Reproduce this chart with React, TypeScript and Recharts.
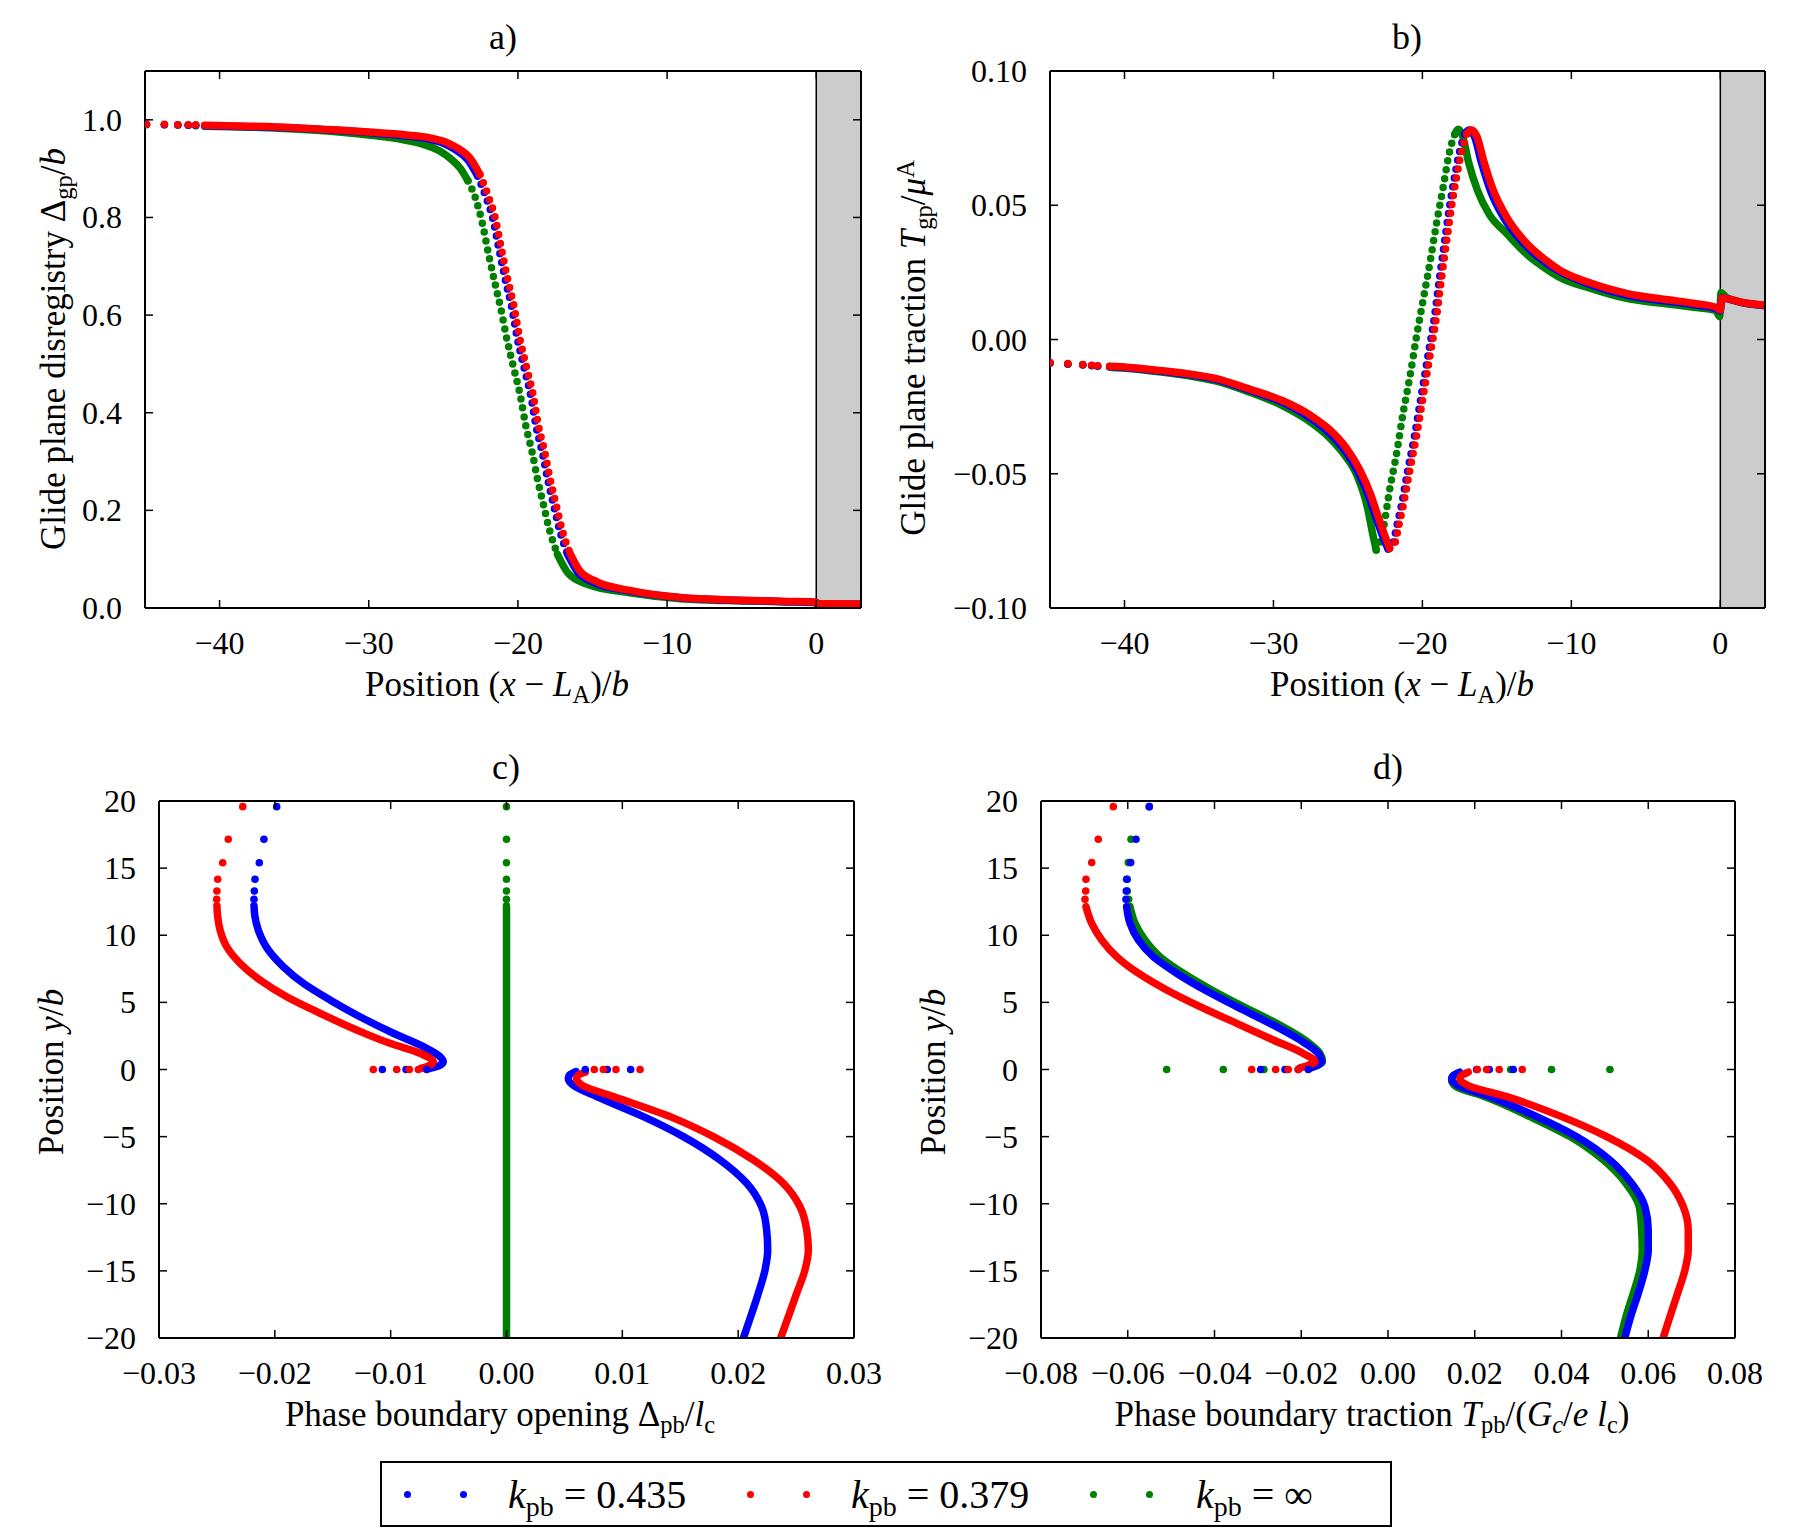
import React from "react";
import {
  ComposedChart,
  Line,
  ReferenceArea,
  ReferenceLine,
  Scatter,
  XAxis,
  YAxis,
} from "recharts";

type P = [number, number];
type Pt = { x: number; y: number };
type Kind = "dot" | "solid" | "dotted";

// a) glide plane disregistry vs position
const aBlue: P[] = [
  [-44.9, 0.991], [-43.7, 0.99], [-42.8, 0.99], [-42.1, 0.989], [-41.6, 0.989],
  [-41.0, 0.988], [-38.0, 0.986], [-35.0, 0.983], [-32.0, 0.978], [-30.0, 0.974],
  [-27.5, 0.967], [-25.9, 0.96], [-25.0, 0.952], [-24.25, 0.94], [-23.35, 0.918],
  [-22.7, 0.885], [-22.15, 0.842], [-21.69, 0.798], [-21.25, 0.732], [-20.8, 0.666],
  [-20.46, 0.622], [-20.02, 0.549], [-19.57, 0.49], [-19.12, 0.432], [-18.79, 0.373],
  [-18.34, 0.315], [-18.01, 0.264], [-17.56, 0.205], [-17.22, 0.161], [-16.67, 0.11],
  [-16.0, 0.074], [-14.9, 0.052], [-12.6, 0.035], [-9.1, 0.021], [-5.0, 0.0155],
  [-2.0, 0.013], [0.0, 0.0115], [0.05, 0.0085], [3.0, 0.0078],
];
const aRed: P[] = [
  [-44.9, 0.991], [-43.7, 0.991], [-42.8, 0.99], [-42.1, 0.99], [-41.6, 0.99],
  [-41.0, 0.989], [-38.0, 0.987], [-35.0, 0.984], [-32.0, 0.979], [-30.0, 0.975],
  [-27.5, 0.969], [-25.9, 0.963], [-24.9, 0.955], [-24.1, 0.943], [-23.2, 0.921],
  [-22.55, 0.888], [-22.0, 0.845], [-21.54, 0.801], [-21.1, 0.735], [-20.65, 0.669],
  [-20.31, 0.625], [-19.87, 0.552], [-19.42, 0.493], [-18.97, 0.435], [-18.64, 0.376],
  [-18.19, 0.318], [-17.86, 0.267], [-17.41, 0.208], [-17.07, 0.164], [-16.52, 0.113],
  [-15.85, 0.076], [-14.73, 0.054], [-12.5, 0.036], [-9.1, 0.0215], [-5.0, 0.016],
  [-2.0, 0.0135], [0.0, 0.012], [0.05, 0.009], [1.5, 0.0085], [3.0, 0.008],
];
const aGreen: P[] = [
  [-44.9, 0.99], [-43.7, 0.99], [-42.8, 0.989], [-42.1, 0.989], [-41.6, 0.988],
  [-41.0, 0.987], [-38.0, 0.985], [-35.0, 0.981], [-32.0, 0.975], [-30.0, 0.969],
  [-28.0, 0.961], [-26.5, 0.951], [-25.3, 0.937], [-24.5, 0.92], [-23.85, 0.9],
  [-23.35, 0.875], [-22.85, 0.84], [-22.4, 0.79], [-21.95, 0.722], [-21.5, 0.66],
  [-21.16, 0.615], [-20.72, 0.548], [-20.27, 0.49], [-19.82, 0.432], [-19.49, 0.376],
  [-19.04, 0.318], [-18.71, 0.267], [-18.26, 0.208], [-17.92, 0.164], [-17.35, 0.11],
  [-16.6, 0.07], [-15.3, 0.048], [-12.5, 0.031], [-9.1, 0.019], [-5.0, 0.0145],
  [-2.0, 0.0125], [0.0, 0.0105], [0.05, 0.008], [3.0, 0.0075],
];

// b) glide plane traction vs position
const bBlue: P[] = [
  [-45.0, -0.0087], [-43.8, -0.0091], [-42.8, -0.0094], [-42.2, -0.0097], [-41.8, -0.0099],
  [-41.0, -0.0101], [-39.7, -0.0106], [-37.7, -0.0117], [-35.8, -0.013], [-33.9, -0.0148],
  [-31.6, -0.0189], [-29.3, -0.0236], [-27.6, -0.029], [-26.3, -0.0346], [-25.2, -0.0415],
  [-24.3, -0.0496], [-23.6, -0.0585], [-23.07, -0.067], [-22.6, -0.0742], [-22.3, -0.078],
  [-21.97, -0.0758], [-21.73, -0.0697], [-21.43, -0.0623], [-20.98, -0.0486], [-20.54, -0.0362],
  [-20.09, -0.0213], [-19.64, -0.0064], [-19.19, 0.0085], [-18.84, 0.0234], [-18.5, 0.037],
  [-18.18, 0.0495], [-17.84, 0.0606], [-17.48, 0.0706], [-17.14, 0.0768], [-16.85, 0.078],
  [-16.48, 0.0752], [-16.05, 0.0662], [-15.4, 0.055], [-14.5, 0.045], [-13.1, 0.0352],
  [-11.5, 0.0278], [-10.8, 0.0254], [-8.8, 0.0206], [-6.3, 0.0165], [-3.5, 0.0142],
  [-1.8, 0.013], [-0.3, 0.0115], [0.0, 0.0106], [0.1, 0.0155], [1.5, 0.0137], [3.0, 0.0127],
];
const bRed: P[] = [
  [-45.0, -0.0086], [-43.8, -0.009], [-42.8, -0.0093], [-42.2, -0.0096], [-41.8, -0.0098],
  [-41.0, -0.01], [-39.7, -0.0104], [-37.7, -0.0115], [-35.8, -0.0127], [-33.9, -0.0145],
  [-31.6, -0.0185], [-29.3, -0.023], [-27.55, -0.0281], [-26.2, -0.0337], [-25.1, -0.0405],
  [-24.2, -0.0486], [-23.5, -0.0573], [-22.97, -0.066], [-22.5, -0.0734], [-22.2, -0.0778],
  [-21.85, -0.0759], [-21.6, -0.0697], [-21.3, -0.0623], [-20.84, -0.0486], [-20.4, -0.0362],
  [-19.95, -0.0213], [-19.5, -0.0064], [-19.05, 0.0085], [-18.7, 0.0234], [-18.36, 0.037],
  [-18.04, 0.0495], [-17.7, 0.0606], [-17.34, 0.0706], [-17.0, 0.0768], [-16.7, 0.078],
  [-16.33, 0.0755], [-15.9, 0.0668], [-15.25, 0.0557], [-14.35, 0.0457], [-13.0, 0.0358],
  [-11.44, 0.0284], [-10.8, 0.0259], [-8.8, 0.0212], [-6.3, 0.0172], [-3.5, 0.0148],
  [-1.8, 0.0135], [-0.3, 0.012], [0.0, 0.011], [0.1, 0.0155], [1.5, 0.0138], [3.0, 0.0128],
];
const bGreen: P[] = [
  [-45.0, -0.0088], [-43.8, -0.0092], [-42.8, -0.0095], [-42.2, -0.0098], [-41.8, -0.01],
  [-41.0, -0.0103], [-39.7, -0.0108], [-37.7, -0.012], [-35.8, -0.0134], [-33.9, -0.0154],
  [-31.6, -0.0196], [-29.3, -0.0249], [-27.8, -0.0297], [-26.2, -0.0368], [-25.3, -0.0425],
  [-24.4, -0.0505], [-23.7, -0.0623], [-23.3, -0.0734], [-23.1, -0.0784], [-22.85, -0.0755],
  [-22.6, -0.0697], [-22.2, -0.056], [-21.73, -0.0424], [-21.3, -0.0275], [-20.84, -0.0139],
  [-20.4, 0.001], [-19.95, 0.0147], [-19.5, 0.0284], [-19.05, 0.0433], [-18.6, 0.0569],
  [-18.15, 0.0706], [-17.8, 0.0768], [-17.6, 0.0783], [-17.3, 0.0757], [-16.9, 0.066],
  [-16.3, 0.0555], [-15.5, 0.0465], [-14.35, 0.0395], [-13.0, 0.0318], [-11.44, 0.0254],
  [-10.8, 0.0232], [-8.8, 0.0192], [-6.3, 0.0153], [-3.5, 0.0132], [-1.8, 0.012],
  [-0.3, 0.0108], [-0.05, 0.0085], [0.05, 0.0174], [0.4, 0.0157], [1.5, 0.0137], [3.0, 0.0126],
];

// c) phase boundary opening vs y
const cBlue: P[] = [
  [-0.01984, 19.58], [-0.02094, 17.15], [-0.02134, 15.4], [-0.02171, 14.17], [-0.02177, 13.3], [-0.0218, 12.68],
  [-0.0218, 12.2], [-0.02172, 11.4], [-0.02143, 10.39], [-0.02056, 8.9], [-0.01927, 7.66], [-0.01754, 6.42],
  [-0.01524, 5.18], [-0.01265, 3.93], [-0.00977, 2.7], [-0.00718, 1.7], [-0.0058, 1.0], [-0.00546, 0.58],
  [-0.0059, 0.25], [-0.0066, 0.08],
  [-0.00689, 0], [-0.00867, 0], [-0.01072, 0],
  [0.01072, 0], [0.0087, 0], [0.0068, 0],
  [0.006, -0.15], [0.0054, -0.45], [0.00534, -0.73], [0.0058, -1.2], [0.00779, -2.02], [0.01182, -3.51],
  [0.01527, -5.0], [0.01844, -6.74], [0.02074, -8.48], [0.02203, -10.22], [0.02246, -11.96], [0.02255, -13.45],
  [0.02232, -14.93], [0.02174, -16.67], [0.02108, -18.41], [0.02045, -20.0],
];
const cRed: P[] = [
  [-0.02277, 19.58], [-0.02402, 17.15], [-0.0245, 15.4], [-0.02493, 14.17], [-0.025, 13.3], [-0.02502, 12.68],
  [-0.025, 12.2], [-0.02495, 11.5], [-0.02473, 10.39], [-0.02416, 9.15], [-0.023, 7.91], [-0.02128, 6.67],
  [-0.01898, 5.42], [-0.0161, 4.19], [-0.01293, 2.94], [-0.01006, 1.95], [-0.00747, 1.21], [-0.00632, 0.58],
  [-0.0068, 0.25], [-0.0074, 0.08],
  [-0.00761, 0], [-0.00839, 0], [-0.00948, 0], [-0.0115, 0],
  [0.01153, 0], [0.00945, 0], [0.00836, 0], [0.00758, 0],
  [0.0068, -0.2], [0.0061, -0.5], [0.00606, -0.73], [0.0066, -1.2], [0.00923, -2.02], [0.01412, -3.51],
  [0.01786, -5.0], [0.02131, -6.74], [0.0239, -8.48], [0.02534, -10.22], [0.02592, -11.96], [0.02606, -13.45],
  [0.02577, -14.93], [0.02505, -16.67], [0.02433, -18.41], [0.02367, -20.0],
];
const cGreen: P[] = [
  [0, 19.58], [0, 17.15], [0, 15.4], [0, 14.17], [0, 13.3], [0, 12.68],
  [0, 12.2], [0, 6.0], [0, -6.0], [0, -20.0],
];

// d) phase boundary traction vs y
const dBlue: P[] = [
  [-0.05504, 19.58], [-0.0581, 17.15], [-0.05932, 15.41], [-0.06025, 14.17], [-0.06034, 13.3], [-0.06041, 12.68],
  [-0.06025, 12.13], [-0.05948, 10.89], [-0.05757, 9.65], [-0.05411, 8.4], [-0.04872, 7.17], [-0.0422, 5.92],
  [-0.03489, 4.68], [-0.02721, 3.44], [-0.0203, 2.2], [-0.01608, 1.2], [-0.0153, 0.58], [-0.0165, 0.3], [-0.018, 0.12],
  [-0.01838, 0], [-0.02069, 0], [-0.02375, 0], [-0.02935, 0],
  [0.02888, 0], [0.02334, 0], [0.02043, 0],
  [0.0165, -0.2], [0.0149, -0.5], [0.01467, -0.73], [0.0162, -1.2], [0.0235, -2.02], [0.03427, -3.51],
  [0.04349, -5.0], [0.05117, -6.74], [0.05617, -8.48], [0.05924, -10.22], [0.06, -11.96], [0.06, -13.45],
  [0.05924, -14.93], [0.0577, -16.67], [0.05594, -18.41], [0.0546, -20.0],
];
const dRed: P[] = [
  [-0.06333, 19.58], [-0.06679, 17.15], [-0.06831, 15.41], [-0.06963, 14.17], [-0.0697, 13.3], [-0.06986, 12.68],
  [-0.06963, 12.13], [-0.06831, 10.89], [-0.066, 9.65], [-0.06255, 8.4], [-0.05757, 7.17], [-0.05103, 5.92],
  [-0.04335, 4.68], [-0.03489, 3.44], [-0.02645, 2.2], [-0.01954, 1.2], [-0.01684, 0.58], [-0.0185, 0.3], [-0.0203, 0.12],
  [-0.02069, 0], [-0.023, 0], [-0.0259, 0], [-0.03143, 0],
  [0.03095, 0], [0.02564, 0], [0.02274, 0], [0.02058, 0],
  [0.0185, -0.2], [0.0168, -0.5], [0.01659, -0.73], [0.0185, -1.2], [0.02736, -2.02], [0.04003, -3.51],
  [0.0504, -5.0], [0.05962, -6.74], [0.065, -8.48], [0.06807, -10.22], [0.06922, -11.96], [0.06922, -13.45],
  [0.06846, -14.93], [0.06677, -16.67], [0.065, -18.41], [0.06343, -20.0],
];
const dGreen: P[] = [
  [-0.05504, 19.58], [-0.05925, 17.15], [-0.05987, 15.41], [-0.0601, 14.17], [-0.0601, 13.3], [-0.0598, 12.68],
  [-0.05948, 12.13], [-0.05833, 10.89], [-0.05603, 9.65], [-0.05257, 8.4], [-0.0472, 7.17], [-0.04065, 5.92],
  [-0.03336, 4.68], [-0.02567, 3.44], [-0.01914, 2.2], [-0.01568, 1.2], [-0.0151, 0.58], [-0.0163, 0.3], [-0.0178, 0.12],
  [-0.02336, 0], [-0.0286, 0], [-0.03797, 0], [-0.05103, 0],
  [0.05117, 0], [0.0377, 0], [0.02828, 0], [0.02312, 0],
  [0.0165, -0.25], [0.0148, -0.55], [0.01467, -0.8], [0.0158, -1.3], [0.02235, -2.02], [0.03272, -3.51],
  [0.04195, -5.0], [0.04963, -6.74], [0.05486, -8.48], [0.05793, -10.22], [0.05847, -11.96], [0.05862, -13.45],
  [0.05808, -14.93], [0.05655, -16.67], [0.05486, -18.41], [0.0536, -20.0],
];

const posTicks = [-40, -30, -20, -10, 0];
const aYTicks = [0, 0.2, 0.4, 0.6, 0.8, 1.0];
const bYTicks = [-0.1, -0.05, 0, 0.05, 0.1];
const cXTicks = [-0.03, -0.02, -0.01, 0, 0.01, 0.02, 0.03];
const dXTicks = [-0.08, -0.06, -0.04, -0.02, 0, 0.02, 0.04, 0.06, 0.08];
const yTicks = [-20, -15, -10, -5, 0, 5, 10, 15, 20];

const BLUE = "#0000ff";
const RED = "#ff0000";
const GREEN = "#008000";
const FONT = '"Liberation Serif", "DejaVu Serif", serif';

const fmt = (digits: number) => (v: number) =>
  (digits < 0 ? String(v) : v.toFixed(digits)).replace("-", "\u2212");

// split a series into isolated dots, dense (solid) runs and sparse (dotted) runs
function segments(data: P[], kindOf: (p: Pt, i: number, pts: Pt[]) => Kind) {
  const pts = data.map(([x, y]) => ({ x, y }));
  const segs: { kind: Kind; pts: Pt[] }[] = [];
  pts.forEach((p, i) => {
    const k = kindOf(p, i, pts);
    const last = segs[segs.length - 1];
    if (last && last.kind === k) {
      last.pts.push(p);
      return;
    }
    const seg = { kind: k, pts: [p] };
    if (last && k !== "dot" && last.kind !== "dot") seg.pts.unshift(last.pts[last.pts.length - 1]);
    segs.push(seg);
  });
  return segs;
}

const kindA = (p: Pt): Kind => (p.x < -41.3 ? "dot" : p.y > 0.1 && p.y < 0.87 ? "dotted" : "solid");
const kindB = (p: Pt, i: number, pts: Pt[]): Kind => {
  if (p.x < -41.3) return "dot";
  let lo = 0;
  let hi = 0;
  pts.forEach((q, j) => {
    if (q.y < pts[lo].y) lo = j;
    if (q.y > pts[hi].y) hi = j;
  });
  return i > lo && i < hi ? "dotted" : "solid";
};
const kindPB = (p: Pt): Kind => (p.y === 0 || p.y > 12.5 ? "dot" : "solid");

interface PanelProps {
  left: number;
  top: number;
  right: number;
  yWidth: number;
  xDomain: [number, number];
  yDomain: [number, number];
  xTicks: number[];
  yTicks: number[];
  xFmt: (v: number) => string;
  yFmt: (v: number) => string;
  series: { color: string; data: P[] }[];
  kindOf: (p: Pt, i: number, pts: Pt[]) => Kind;
  curve: "monotone" | "monotoneY";
  shaded?: boolean;
}

const W = 900;
const H = 720;
const TOP = 71;
const XH = 112;
const TICK = 8;
const axisStyle = { stroke: "#000", strokeWidth: 2 };
const tickText = { fill: "#000", fontSize: 32, fontFamily: FONT };

function Panel(props: PanelProps) {
  const { left, top, right, yWidth, xDomain, yDomain, xTicks, yTicks, xFmt, yFmt, series, kindOf, curve, shaded } = props;
  const pl = yWidth;
  const pr = W - right;
  const pt = TOP;
  const pb = H - XH;

  // matplotlib-style ticks: pointing inward on all four sides
  const xTick = (p: any) => (
    <g>
      <line x1={p.x} x2={p.x} y1={pb} y2={pb - TICK} stroke="#000" strokeWidth={1.5} />
      <line x1={p.x} x2={p.x} y1={pt} y2={pt + TICK} stroke="#000" strokeWidth={1.5} />
      <text x={p.x} y={pb + 46} textAnchor="middle" {...tickText}>{xFmt(p.payload.value)}</text>
    </g>
  );
  const yTick = (p: any) => (
    <g>
      <line x1={pl} x2={pl + TICK} y1={p.y} y2={p.y} stroke="#000" strokeWidth={1.5} />
      <line x1={pr} x2={pr - TICK} y1={p.y} y2={p.y} stroke="#000" strokeWidth={1.5} />
      <text x={pl - 23} y={p.y + 11} textAnchor="end" {...tickText}>{yFmt(p.payload.value)}</text>
    </g>
  );

  return (
    <div style={{ position: "absolute", left, top }}>
      <ComposedChart width={W} height={H} margin={{ top: TOP, right, bottom: 0, left: 0 }}>
        <XAxis xAxisId="b" type="number" dataKey="x" domain={xDomain} ticks={xTicks} allowDataOverflow
          orientation="bottom" height={XH} interval={0} tick={xTick} tickLine={false} axisLine={axisStyle} />
        <YAxis yAxisId="l" type="number" dataKey="y" domain={yDomain} ticks={yTicks} allowDataOverflow
          orientation="left" width={yWidth} interval={0} tick={yTick} tickLine={false} axisLine={axisStyle} />
        {shaded && (
          <ReferenceArea xAxisId="b" yAxisId="l" x1={0} x2={xDomain[1]} fill="#cccccc" fillOpacity={1} stroke="none" />
        )}
        {shaded && <ReferenceLine xAxisId="b" yAxisId="l" x={0} stroke="#000" strokeWidth={1.5} />}
        {series.flatMap((s, si) =>
          segments(s.data, kindOf).map((seg, gi) => {
            const key = `${si}-${gi}`;
            if (seg.kind === "dot" || seg.pts.length < 2) {
              return (
                <Scatter key={key} xAxisId="b" yAxisId="l" data={seg.pts} fill={s.color}
                  isAnimationActive={false}
                  shape={(p: any) => <circle cx={p.cx} cy={p.cy} r={3.8} fill={s.color} />} />
              );
            }
            return (
              <Line key={key} xAxisId="b" yAxisId="l" data={seg.pts} dataKey="y" type={curve}
                stroke={s.color} strokeWidth={7.5} strokeLinecap="round" strokeLinejoin="round"
                strokeDasharray={seg.kind === "dotted" ? "0 9" : undefined}
                dot={false} activeDot={false} legendType="none" isAnimationActive={false} />
            );
          })
        )}
        {/* top and right sides of the frame */}
        <ReferenceLine xAxisId="b" yAxisId="l" y={yDomain[1]} stroke="#000" strokeWidth={2} />
        <ReferenceLine xAxisId="b" yAxisId="l" x={xDomain[1]} stroke="#000" strokeWidth={2} />
      </ComposedChart>
    </div>
  );
}

const subStyle: React.CSSProperties = { fontSize: "0.7em", position: "relative", top: "0.3em" };
const supStyle: React.CSSProperties = { fontSize: "0.7em", position: "relative", top: "-0.45em" };
const Sub = ({ children }: { children: React.ReactNode }) => <span style={subStyle}>{children}</span>;
const Sup = ({ children }: { children: React.ReactNode }) => <span style={supStyle}>{children}</span>;

function Txt({ x, y, rotate, size = 35, children }: { x: number; y: number; rotate?: boolean; size?: number; children: React.ReactNode }) {
  return (
    <div
      style={{
        position: "absolute",
        left: x,
        top: y,
        transform: `translate(-50%, -50%)${rotate ? " rotate(-90deg)" : ""}`,
        fontSize: size,
        lineHeight: 1,
        whiteSpace: "nowrap",
        fontFamily: FONT,
        color: "#000",
      }}
    >
      {children}
    </div>
  );
}

const legendItems = [
  { color: BLUE, dots: [407, 463], textX: 508, value: "0.435" },
  { color: RED, dots: [750, 806], textX: 851, value: "0.379" },
  { color: GREEN, dots: [1093, 1149], textX: 1196, value: "\u221e" },
];

export default function App() {
  return (
    <div style={{ position: "absolute", left: 0, top: 0, width: 1800, height: 1534, background: "#fff", fontFamily: FONT, overflow: "hidden" }}>
      <Panel left={0} top={0} right={39} yWidth={145} xDomain={[-45, 3]} yDomain={[0, 1.1]}
        xTicks={posTicks} yTicks={aYTicks} xFmt={fmt(-1)} yFmt={fmt(1)} kindOf={kindA} curve="monotone" shaded
        series={[{ color: GREEN, data: aGreen }, { color: BLUE, data: aBlue }, { color: RED, data: aRed }]} />
      <Panel left={900} top={0} right={35} yWidth={150} xDomain={[-45, 3]} yDomain={[-0.1, 0.1]}
        xTicks={posTicks} yTicks={bYTicks} xFmt={fmt(-1)} yFmt={fmt(2)} kindOf={kindB} curve="monotone" shaded
        series={[{ color: GREEN, data: bGreen }, { color: BLUE, data: bBlue }, { color: RED, data: bRed }]} />
      <Panel left={0} top={730} right={46} yWidth={159} xDomain={[-0.03, 0.03]} yDomain={[-20, 20]}
        xTicks={cXTicks} yTicks={yTicks} xFmt={fmt(2)} yFmt={fmt(-1)} kindOf={kindPB} curve="monotoneY"
        series={[{ color: GREEN, data: cGreen }, { color: BLUE, data: cBlue }, { color: RED, data: cRed }]} />
      <Panel left={900} top={730} right={65} yWidth={141} xDomain={[-0.08, 0.08]} yDomain={[-20, 20]}
        xTicks={dXTicks} yTicks={yTicks} xFmt={fmt(2)} yFmt={fmt(-1)} kindOf={kindPB} curve="monotoneY"
        series={[{ color: GREEN, data: dGreen }, { color: BLUE, data: dBlue }, { color: RED, data: dRed }]} />

      <Txt x={503} y={37} size={36}>a)</Txt>
      <Txt x={1407} y={37} size={36}>b)</Txt>
      <Txt x={506} y={767} size={36}>c)</Txt>
      <Txt x={1388} y={767} size={36}>d)</Txt>

      <Txt x={497} y={684}>Position (<i>x</i> − <i>L</i><Sub>A</Sub>)/<i>b</i></Txt>
      <Txt x={1402} y={684}>Position (<i>x</i> − <i>L</i><Sub>A</Sub>)/<i>b</i></Txt>
      <Txt x={500} y={1414}>Phase boundary opening Δ<Sub>pb</Sub>/<i>l</i><Sub>c</Sub></Txt>
      <Txt x={1372} y={1414}>Phase boundary traction <i>T</i><Sub>pb</Sub>/(<i>G</i><Sub><i>c</i></Sub>/<i>e</i> <i>l</i><Sub>c</Sub>)</Txt>

      <Txt x={53} y={349} rotate>Glide plane disregistry Δ<Sub>gp</Sub>/<i>b</i></Txt>
      <Txt x={913} y={348} rotate>Glide plane traction <i>T</i><Sub>gp</Sub>/<i>μ</i><Sup>A</Sup></Txt>
      <Txt x={51} y={1072} rotate>Position <i>y</i>/<i>b</i></Txt>
      <Txt x={933} y={1072} rotate>Position <i>y</i>/<i>b</i></Txt>

      <div style={{ position: "absolute", left: 380, top: 1461, width: 1012, height: 66, border: "2px solid #000", boxSizing: "border-box" }}>
        {legendItems.map((it) => (
          <React.Fragment key={it.value}>
            {it.dots.map((dx) => (
              <div key={dx} style={{ position: "absolute", left: dx - 380 - 3.5 - 2, top: 1494 - 1461 - 3.5 - 2, width: 7, height: 7, borderRadius: "50%", background: it.color }} />
            ))}
            <div style={{ position: "absolute", left: it.textX - 380 - 2, top: 0, height: 62, display: "flex", alignItems: "center", fontSize: 40, whiteSpace: "nowrap" }}>
              <span>
                <i>k</i><Sub>pb</Sub> = {it.value}
              </span>
            </div>
          </React.Fragment>
        ))}
      </div>
    </div>
  );
}
